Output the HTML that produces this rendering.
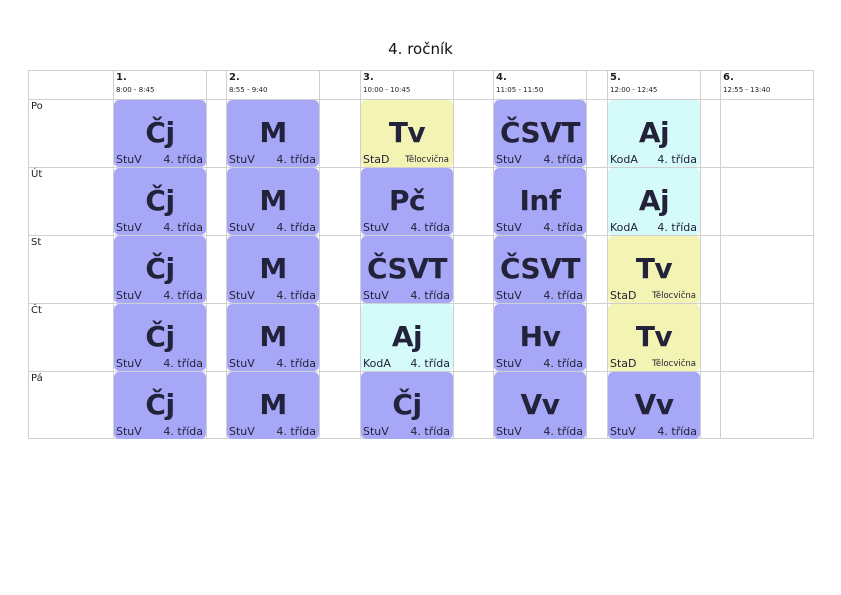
<!DOCTYPE html>
<html><head><meta charset="utf-8"><style>
body{margin:0;width:841px;height:595px;background:#fff;position:relative;font-family:"DejaVu Sans","Liberation Sans",sans-serif;overflow:hidden}
.t{position:absolute;left:0;width:841px;top:40px;text-align:center;font-size:15px;color:#111}
.v{position:absolute;top:70px;height:368px;width:1px;background:#d0d0d0}
.h{position:absolute;left:28px;width:785px;height:1px;background:#d0d0d0}
.hd{position:absolute;top:72px;font-size:10px;font-weight:bold;color:#222}
.hd span{display:block;font-weight:normal;font-size:7px;margin-top:3px}
.d{position:absolute;left:31px;font-size:10px;color:#222}
.c{position:absolute;width:92px;height:67px;border-radius:5px;color:#22223a}
.c b{position:absolute;left:0;right:0;top:16px;text-align:center;font-size:28px;line-height:34px;letter-spacing:-0.5px}
.c i{position:absolute;left:2px;bottom:1px;font-style:normal;font-size:11px}
.c u{position:absolute;right:3px;bottom:1px;text-decoration:none;font-size:11px}
.c u.s{font-size:8.5px;bottom:2px;right:4px}
.p{background:#a7a7f7}.y{background:#f3f3b3}.a{background:#d4fafa}
</style></head><body>
<div class="t">4. ročník</div>
<div class="h" style="top:70px"></div><div class="h" style="top:99px"></div><div class="h" style="top:167px"></div><div class="h" style="top:235px"></div><div class="h" style="top:303px"></div><div class="h" style="top:371px"></div><div class="h" style="top:438px"></div>
<div class="v" style="left:28px"></div><div class="v" style="left:113px"></div><div class="v" style="left:206px"></div><div class="v" style="left:226px"></div><div class="v" style="left:319px"></div><div class="v" style="left:360px"></div><div class="v" style="left:453px"></div><div class="v" style="left:493px"></div><div class="v" style="left:586px"></div><div class="v" style="left:607px"></div><div class="v" style="left:700px"></div><div class="v" style="left:720px"></div><div class="v" style="left:813px"></div>
<div class="hd" style="left:116px">1.<span>8:00 - 8:45</span></div>
<div class="hd" style="left:229px">2.<span>8:55 - 9:40</span></div>
<div class="hd" style="left:363px">3.<span>10:00 - 10:45</span></div>
<div class="hd" style="left:496px">4.<span>11:05 - 11:50</span></div>
<div class="hd" style="left:610px">5.<span>12:00 - 12:45</span></div>
<div class="hd" style="left:723px">6.<span>12:55 - 13:40</span></div>
<div class="d" style="top:101px">Po</div><div class="d" style="top:169px">Út</div><div class="d" style="top:237px">St</div><div class="d" style="top:305px">Čt</div><div class="d" style="top:373px">Pá</div>

<div class="c p" style="left:114px;top:100px"><b>Čj</b><i>StuV</i><u>4. třída</u></div>
<div class="c p" style="left:227px;top:100px"><b>M</b><i>StuV</i><u>4. třída</u></div>
<div class="c y" style="left:361px;top:100px"><b>Tv</b><i>StaD</i><u class="s">Tělocvična</u></div>
<div class="c p" style="left:494px;top:100px"><b>ČSVT</b><i>StuV</i><u>4. třída</u></div>
<div class="c a" style="left:608px;top:100px"><b>Aj</b><i>KodA</i><u>4. třída</u></div>

<div class="c p" style="left:114px;top:168px"><b>Čj</b><i>StuV</i><u>4. třída</u></div>
<div class="c p" style="left:227px;top:168px"><b>M</b><i>StuV</i><u>4. třída</u></div>
<div class="c p" style="left:361px;top:168px"><b>Pč</b><i>StuV</i><u>4. třída</u></div>
<div class="c p" style="left:494px;top:168px"><b>Inf</b><i>StuV</i><u>4. třída</u></div>
<div class="c a" style="left:608px;top:168px"><b>Aj</b><i>KodA</i><u>4. třída</u></div>

<div class="c p" style="left:114px;top:236px"><b>Čj</b><i>StuV</i><u>4. třída</u></div>
<div class="c p" style="left:227px;top:236px"><b>M</b><i>StuV</i><u>4. třída</u></div>
<div class="c p" style="left:361px;top:236px"><b>ČSVT</b><i>StuV</i><u>4. třída</u></div>
<div class="c p" style="left:494px;top:236px"><b>ČSVT</b><i>StuV</i><u>4. třída</u></div>
<div class="c y" style="left:608px;top:236px"><b>Tv</b><i>StaD</i><u class="s">Tělocvična</u></div>

<div class="c p" style="left:114px;top:304px"><b>Čj</b><i>StuV</i><u>4. třída</u></div>
<div class="c p" style="left:227px;top:304px"><b>M</b><i>StuV</i><u>4. třída</u></div>
<div class="c a" style="left:361px;top:304px"><b>Aj</b><i>KodA</i><u>4. třída</u></div>
<div class="c p" style="left:494px;top:304px"><b>Hv</b><i>StuV</i><u>4. třída</u></div>
<div class="c y" style="left:608px;top:304px"><b>Tv</b><i>StaD</i><u class="s">Tělocvična</u></div>

<div class="c p" style="left:114px;top:372px"><b>Čj</b><i>StuV</i><u>4. třída</u></div>
<div class="c p" style="left:227px;top:372px"><b>M</b><i>StuV</i><u>4. třída</u></div>
<div class="c p" style="left:361px;top:372px"><b>Čj</b><i>StuV</i><u>4. třída</u></div>
<div class="c p" style="left:494px;top:372px"><b>Vv</b><i>StuV</i><u>4. třída</u></div>
<div class="c p" style="left:608px;top:372px"><b>Vv</b><i>StuV</i><u>4. třída</u></div>
</body></html>
